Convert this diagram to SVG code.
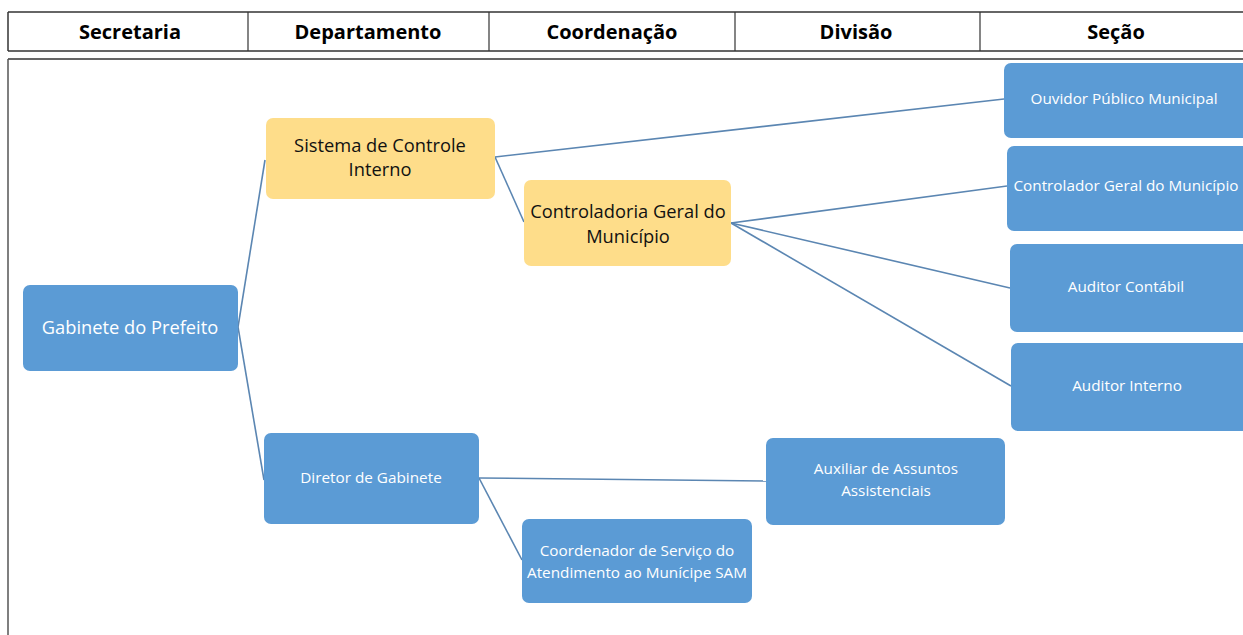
<svg xmlns="http://www.w3.org/2000/svg" width="1243" height="635" viewBox="0 0 1243 635">
<style>
.hdr{font-family:"Open Sans","Liberation Sans",sans-serif;font-weight:bold;font-size:20px;fill:#000;text-anchor:middle}
.blue{fill:#5B9BD5}
.yel{fill:#FEDD8A}
.wt{font-family:"Open Sans","Liberation Sans",sans-serif;fill:#fff;text-anchor:middle;font-size:15.3px}
.bt{font-family:"Open Sans","Liberation Sans",sans-serif;fill:#111;text-anchor:middle;font-size:18.3px}
.conn line{stroke:#5B86B2;stroke-width:1.6}
</style>
<rect width="1243" height="635" fill="#fff"/>
<g id="header">
<line x1="8" y1="12" x2="1243" y2="12" stroke="#333" stroke-width="1.5"/>
<line x1="8" y1="51" x2="1243" y2="51" stroke="#333" stroke-width="1.5"/>
<line x1="8" y1="12" x2="8" y2="51" stroke="#333" stroke-width="1.5"/>
<line x1="248" y1="12" x2="248" y2="51" stroke="#333" stroke-width="1.2"/>
<line x1="489" y1="12" x2="489" y2="51" stroke="#333" stroke-width="1.2"/>
<line x1="735" y1="12" x2="735" y2="51" stroke="#333" stroke-width="1.2"/>
<line x1="980" y1="12" x2="980" y2="51" stroke="#333" stroke-width="1.2"/>
<text class="hdr" x="130" y="39">Secretaria</text>
<text class="hdr" x="368" y="39">Departamento</text>
<text class="hdr" x="612" y="39">Coordenação</text>
<text class="hdr" x="856" y="39">Divisão</text>
<text class="hdr" x="1116" y="39">Seção</text>
</g>
<g id="frame">
<line x1="8" y1="59" x2="1243" y2="59" stroke="#333" stroke-width="1.5"/>
<line x1="8" y1="59" x2="8" y2="635" stroke="#555" stroke-width="1.5"/>
</g>
<g class="conn" id="connectors">
<line x1="238" y1="327" x2="265" y2="160"/>
<line x1="238" y1="327" x2="264" y2="480"/>
<line x1="495" y1="157" x2="1004" y2="99"/>
<line x1="495" y1="157" x2="524" y2="222"/>
<line x1="731" y1="223" x2="1007" y2="186"/>
<line x1="731" y1="223" x2="1010" y2="288"/>
<line x1="731" y1="223" x2="1011" y2="386"/>
<line x1="479" y1="478" x2="766" y2="481"/>
<line x1="479" y1="478" x2="522" y2="560"/>
</g>
<g id="n-gabinete"><rect class="blue" x="23" y="285" width="215" height="86" rx="7"/><text class="wt" x="130" y="334" style="font-size:18.3px">Gabinete do Prefeito</text></g>
<g id="n-sistema"><rect class="yel" x="266" y="118" width="229" height="81" rx="7"/><text class="bt" x="380" y="152">Sistema de Controle</text><text class="bt" x="380" y="176">Interno</text></g>
<g id="n-controladoria"><rect class="yel" x="524" y="180" width="207" height="86" rx="7"/><text class="bt" x="628" y="218">Controladoria Geral do</text><text class="bt" x="628" y="243">Município</text></g>
<g id="n-ouvidor"><rect class="blue" x="1004" y="63" width="250" height="75" rx="7"/><text class="wt" x="1124" y="104">Ouvidor Público Municipal</text></g>
<g id="n-controlador"><rect class="blue" x="1007" y="146" width="247" height="85" rx="7"/><text class="wt" x="1126" y="191">Controlador Geral do Município</text></g>
<g id="n-contabil"><rect class="blue" x="1010" y="244" width="244" height="88" rx="7"/><text class="wt" x="1126" y="292">Auditor Contábil</text></g>
<g id="n-interno"><rect class="blue" x="1011" y="343" width="243" height="88" rx="7"/><text class="wt" x="1127" y="391">Auditor Interno</text></g>
<g id="n-diretor"><rect class="blue" x="264" y="433" width="215" height="91" rx="7"/><text class="wt" x="371" y="483">Diretor de Gabinete</text></g>
<g id="n-auxiliar"><rect class="blue" x="766" y="438" width="239" height="87" rx="7"/><text class="wt" x="886" y="474">Auxiliar de Assuntos</text><text class="wt" x="886" y="496">Assistenciais</text></g>
<g id="n-coordenador"><rect class="blue" x="522" y="519" width="230" height="84" rx="7"/><text class="wt" x="637" y="556">Coordenador de Serviço do</text><text class="wt" x="637" y="578">Atendimento ao Munícipe SAM</text></g>
</svg>
